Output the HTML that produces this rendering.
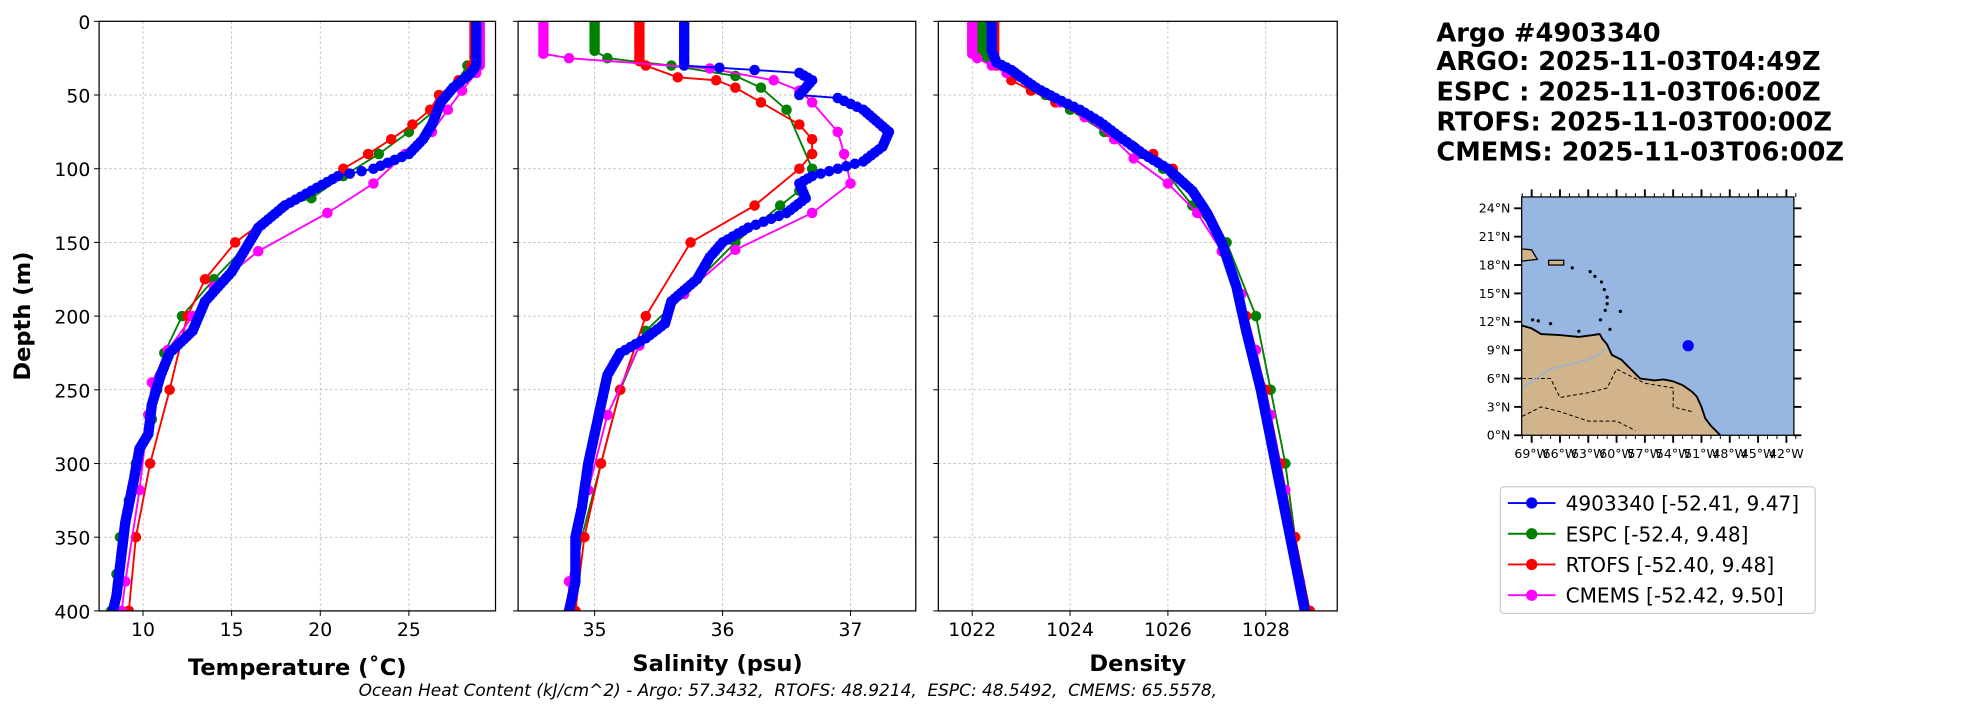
<!DOCTYPE html>
<html><head><meta charset="utf-8"><style>
html,body{margin:0;padding:0;background:#fff;}
svg{display:block;font-family:"DejaVu Sans","Liberation Sans",sans-serif;}
</style></head><body>
<svg id="s" width="1967" height="712" viewBox="0 0 1568 567.6" preserveAspectRatio="none" xmlns="http://www.w3.org/2000/svg">
<rect width="1568" height="567.6" fill="#fff"/>
<g id="g"></g>
<text x="1145" y="33" font-size="20.5" font-weight="bold">Argo #4903340</text>
<text x="1145" y="56" font-size="20.5" font-weight="bold">ARGO: 2025-11-03T04:49Z</text>
<text x="1145" y="80" font-size="20.5" font-weight="bold">ESPC : 2025-11-03T06:00Z</text>
<text x="1145" y="104" font-size="20.5" font-weight="bold">RTOFS: 2025-11-03T00:00Z</text>
<text x="1145" y="128" font-size="20.5" font-weight="bold">CMEMS: 2025-11-03T06:00Z</text>
<text transform="translate(24,252) rotate(-90)" text-anchor="middle" font-size="18" font-weight="bold">Depth (m)</text>
<text x="237" y="538" text-anchor="middle" font-size="18" font-weight="bold">Temperature (˚C)</text>
<text x="572" y="535" text-anchor="middle" font-size="18" font-weight="bold">Salinity (psu)</text>
<text x="907" y="535" text-anchor="middle" font-size="18" font-weight="bold">Density</text>
<text x="628" y="555" text-anchor="middle" font-size="13.5" font-style="italic" xml:space="preserve">Ocean Heat Content (kJ/cm^2) - Argo: 57.3432,  RTOFS: 48.9214,  ESPC: 48.5492,  CMEMS: 65.5578,</text>
<g id="legend">
<rect x="1196" y="388" width="251" height="101" rx="3" fill="#fff" stroke="#ccc"/>
</g>
</svg>
<script>
const g=document.getElementById('g');
const NS='http://www.w3.org/2000/svg';
function el(t,a,p){const e=document.createElementNS(NS,t);for(const k in a)e.setAttribute(k,a[k]);(p||g).appendChild(e);return e;}
function txt(x,y,s,a,p){const e=el('text',Object.assign({x:x,y:y},a),p);e.textContent=s;return e;}
const Y=d=>17+d*1.175;
const panels=[
 {x0:79,x1:395,f:v=>114+(v-10)*14.13,ticks:[10,15,20,25]},
 {x0:413,x1:730,f:v=>474+(v-35)*102,ticks:[35,36,37]},
 {x0:748,x1:1066,f:v=>775+(v-1022)*39,ticks:[1022,1024,1026,1028]}];
const cols={a:'#0000ff',e:'#008000',r:'#ff0000',c:'#ff00ff'};
const data=[
{a:[[28.8,0],[28.8,30],[28.5,35],[27.5,45],[26.8,55],[26.3,70],[25.8,80],[25,90],[23,100],[21,105],[19.5,115],[18,125],[16.5,140],[16,150],[15,170],[13.5,190],[12.8,210],[11.5,225],[11,240],[10.5,260],[10.3,280],[9.8,290],[9.5,310],[9,340],[8.8,360],[8.5,390],[8.3,400]],
 e:[[28.8,0],[28.8,25],[28.3,30],[27.5,45],[26.5,60],[25,75],[23.3,90],[21.3,105],[19.5,120],[18,125],[16,150],[14,175],[12.2,200],[11.2,225],[10.8,250],[10.5,270],[9.6,300],[9.2,325],[8.7,350],[8.5,375],[8.2,400]],
 r:[[28.7,0],[28.7,25],[28.5,30],[27.8,40],[26.7,50],[26.2,60],[25.2,70],[24,80],[22.7,90],[21.3,100],[18,125],[15.2,150],[13.5,175],[12.5,200],[11.5,250],[10.4,300],[9.6,350],[9.2,400]],
 c:[[29,0],[29,30],[28.8,35],[28,47],[27.2,60],[26.3,75],[24.8,90],[23,110],[20.4,130],[16.5,156],[14,180],[12.8,200],[11.4,223],[10.5,245],[10.3,267],[9.8,318],[9,380],[8.8,400]]},
{a:[[35.7,0],[35.7,30],[36.25,33],[36.6,35],[36.7,40],[36.6,50],[36.9,52],[37.1,60],[37.3,75],[37.25,85],[37.1,95],[36.9,100],[36.7,105],[36.6,110],[36.65,120],[36.5,130],[36.2,140],[36,150],[35.9,160],[35.8,175],[35.6,190],[35.55,205],[35.4,215],[35.2,225],[35.1,240],[35.05,260],[35,280],[34.95,300],[34.9,330],[34.85,350],[34.85,380],[34.8,400]],
 e:[[35,0],[35,20],[35.1,25],[35.6,30],[36.1,37],[36.3,45],[36.5,60],[36.7,100],[36.6,115],[36.45,125],[36.1,150],[35.7,185],[35.4,210],[35.2,250],[35.05,300],[34.9,350],[34.8,400]],
 r:[[35.35,0],[35.35,27],[35.4,30],[35.65,38],[35.95,40],[36.1,45],[36.3,55],[36.6,70],[36.7,80],[36.7,90],[36.6,100],[36.25,125],[35.75,150],[35.4,200],[35.2,250],[35.05,300],[34.92,350],[34.85,400]],
 c:[[34.6,0],[34.6,22],[34.8,25],[35.9,32],[36.4,40],[36.6,47],[36.7,55],[36.9,75],[36.95,90],[37,110],[36.7,130],[36.1,155],[35.7,185],[35.35,220],[35.1,267],[34.95,318],[34.8,380],[34.8,400]]},
{a:[[1022.4,0],[1022.4,20],[1022.5,28],[1022.8,33],[1023,38],[1023.3,45],[1023.7,52],[1024.2,60],[1024.6,68],[1025,78],[1025.5,90],[1026,100],[1026.5,115],[1026.8,130],[1027.1,150],[1027.4,180],[1027.6,210],[1027.9,250],[1028.2,300],[1028.5,350],[1028.8,400]],
 e:[[1022.2,0],[1022.2,20],[1022.3,25],[1022.6,30],[1023,38],[1023.5,50],[1024,60],[1024.7,75],[1025.4,90],[1025.9,100],[1026.5,125],[1027.2,150],[1027.8,200],[1028.1,250],[1028.4,300],[1028.6,350],[1028.9,400]],
 r:[[1022.45,0],[1022.45,22],[1022.5,30],[1022.8,40],[1023.2,47],[1023.7,55],[1024.3,65],[1024.8,75],[1025.3,85],[1025.7,90],[1026.1,100],[1026.7,125],[1027.1,150],[1027.6,200],[1028,250],[1028.3,300],[1028.6,350],[1028.9,400]],
 c:[[1022,0],[1022,22],[1022.1,25],[1022.4,30],[1022.7,35],[1023.3,45],[1023.8,55],[1024.3,65],[1024.9,80],[1025.3,93],[1026,110],[1026.6,130],[1027.1,156],[1027.5,185],[1027.8,223],[1028.1,267],[1028.4,318],[1028.7,380],[1028.8,400]]}];
panels.forEach((p,i)=>{
 const cp='cp'+i;
 const c=el('clipPath',{id:cp});el('rect',{x:p.x0,y:17,width:p.x1-p.x0,height:470},c);
 for(let d=0;d<=400;d+=50){el('line',{x1:p.x0,x2:p.x1,y1:Y(d),y2:Y(d),stroke:'#b0b0b0','stroke-width':0.6,'stroke-dasharray':'2,2'});
   el('line',{x1:p.x0-4,x2:p.x0,y1:Y(d),y2:Y(d),stroke:'#000','stroke-width':0.8});
   if(i==0)txt(72,Y(d)+6,String(d),{'text-anchor':'end','font-size':15});}
 p.ticks.forEach(t=>{const x=p.f(t);el('line',{x1:x,x2:x,y1:17,y2:487,stroke:'#b0b0b0','stroke-width':0.6,'stroke-dasharray':'2,2'});
   el('line',{x1:x,x2:x,y1:487,y2:491,stroke:'#000','stroke-width':0.8});
   txt(x,507,String(t),{'text-anchor':'middle','font-size':15});});
 const gg=el('g',{'clip-path':'url(#'+cp+')'});
 ['e','r','c','a'].forEach(k=>{
   const pts=data[i][k];
   const s=pts.map(q=>p.f(q[0]).toFixed(1)+','+Y(q[1]).toFixed(1)).join(' ');
   if(k=='a'){
     el('polyline',{points:s,fill:'none',stroke:cols.a,'stroke-width':1.5},gg);
     // dense markers along path
     for(let j=0;j<pts.length-1;j++){
       const a=pts[j],b=pts[j+1];const n=Math.max(1,Math.round((b[1]-a[1])/2));
       for(let t=0;t<n;t++){const u=t/n;el('circle',{cx:p.f(a[0]+(b[0]-a[0])*u),cy:Y(a[1]+(b[1]-a[1])*u),r:4.2,fill:cols.a},gg);}
     }
     const L=pts[pts.length-1];el('circle',{cx:p.f(L[0]),cy:Y(L[1]),r:4.2,fill:cols.a},gg);
   } else {
     el('polyline',{points:s,fill:'none',stroke:cols[k],'stroke-width':1.5},gg);
     // dense near-surface markers
     const a=pts[0],b=pts[1];
     for(let d=a[1];d<b[1];d+=2)el('circle',{cx:p.f(a[0]),cy:Y(d),r:4.2,fill:cols[k]},gg);
     pts.forEach((q,j)=>{el('circle',{cx:p.f(q[0]),cy:Y(q[1]),r:4.2,fill:cols[k]},gg);});
   }
 });
 el('rect',{x:p.x0,y:17,width:p.x1-p.x0,height:470,fill:'none',stroke:'#000','stroke-width':1});
});
// map
const mx=lon=>1213+(lon+70.06)*7.52, my=lat=>347-lat*7.54;
const mc=el('clipPath',{id:'mc'});el('rect',{x:1213,y:157,width:217,height:190},mc);
el('rect',{x:1213,y:157,width:217,height:190,fill:'#97b6e1'});
const mg=el('g',{'clip-path':'url(#mc)'});
const land=[[-71,11.5],[-70,11.6],[-69,11.3],[-68,10.7],[-66,10.6],[-64,10.4],[-62.5,10.6],[-61.8,10.7],[-61.5,10.2],[-61,9.6],[-60.5,8.5],[-59.5,8],[-58.5,7],[-57.5,6],[-56,5.8],[-55,5.9],[-54,5.7],[-53,5.3],[-52,4.6],[-51.5,4.1],[-51,3],[-50.6,1.8],[-50,1],[-49,0],[-49,-1],[-71,-1]];
el('polygon',{points:land.map(q=>mx(q[0])+','+my(q[1])).join(' '),fill:'#d2b48c',stroke:'#000','stroke-width':1.5},mg);
el('polygon',{points:[[-71,19.8],[-69,19.6],[-68.4,18.6],[-71,18.3]].map(q=>mx(q[0])+','+my(q[1])).join(' '),fill:'#d2b48c',stroke:'#000','stroke-width':1},mg);
el('polygon',{points:[[-67.2,18.5],[-65.6,18.5],[-65.6,18],[-67.2,18]].map(q=>mx(q[0])+','+my(q[1])).join(' '),fill:'#d2b48c',stroke:'#000','stroke-width':1},mg);
[[-64.7,17.7],[-62.8,17.3],[-62.3,16.8],[-61.6,16.2],[-61.3,15.4],[-61,14.6],[-61,13.9],[-61.2,13.2],[-61.7,12.2],[-59.6,13.1],[-68.9,12.2],[-68.3,12.1],[-67,11.8],[-64,11],[-60.7,11.2]].forEach(q=>el('circle',{cx:mx(q[0]),cy:my(q[1]),r:1.3,fill:'#000'},mg));
el('polyline',{points:[[-70,6],[-67,6],[-66,4],[-63,4.5],[-61,5],[-60,7],[-58,6],[-57,5.5],[-54,5],[-54,3],[-52,2.5]].map(q=>mx(q[0])+','+my(q[1])).join(' '),fill:'none',stroke:'#000','stroke-width':0.8,'stroke-dasharray':'3,2'},mg);
el('polyline',{points:[[-70,2],[-68,3],[-66,2.5],[-63,1.5],[-60,1.5],[-58,0.5]].map(q=>mx(q[0])+','+my(q[1])).join(' '),fill:'none',stroke:'#000','stroke-width':0.8,'stroke-dasharray':'3,2'},mg);
el('polyline',{points:[[-70,5],[-67,7],[-65,7.5],[-63,8],[-61.5,8.8],[-61,9.3]].map(q=>mx(q[0])+','+my(q[1])).join(' '),fill:'none',stroke:'#8fb2e0','stroke-width':1},mg);
el('circle',{cx:mx(-52.41),cy:my(9.47),r:4.5,fill:'#0000ff'});
el('rect',{x:1213,y:157,width:217,height:190,fill:'none',stroke:'#000','stroke-width':1});
for(let lat=0;lat<=24;lat+=3){const y=my(lat);el('line',{x1:1207,x2:1213,y1:y,y2:y,stroke:'#000','stroke-width':1.5});el('line',{x1:1430,x2:1436,y1:y,y2:y,stroke:'#000','stroke-width':1.5});txt(1204,y+3.5,lat+'°N',{'text-anchor':'end','font-size':10});}
for(let lon=-69;lon<=-42;lon+=3){const x=mx(lon);el('line',{x1:x,x2:x,y1:347,y2:353,stroke:'#000','stroke-width':1.5});el('line',{x1:x,x2:x,y1:151,y2:157,stroke:'#000','stroke-width':1.5});txt(x,365,(-lon)+'°W',{'text-anchor':'middle','font-size':10});}
for(let lon=-70;lon<=-41;lon+=1){const x=mx(lon);el('line',{x1:x,x2:x,y1:347,y2:350,stroke:'#000','stroke-width':0.8});el('line',{x1:x,x2:x,y1:154,y2:157,stroke:'#000','stroke-width':0.8});}
// legend
const lg=document.getElementById('legend');
[['a','4903340 [-52.41, 9.47]'],['e','ESPC [-52.4, 9.48]'],['r','RTOFS [-52.40, 9.48]'],['c','CMEMS [-52.42, 9.50]']].forEach((q,j)=>{
 const y=401+j*24.5;
 el('line',{x1:1202,x2:1240,y1:y,y2:y,stroke:cols[q[0]],'stroke-width':1.5},lg);
 el('circle',{cx:1221,cy:y,r:4.5,fill:cols[q[0]]},lg);
 txt(1248,y+6,q[1],{'font-size':16},lg);
});
</script>
</body></html>
